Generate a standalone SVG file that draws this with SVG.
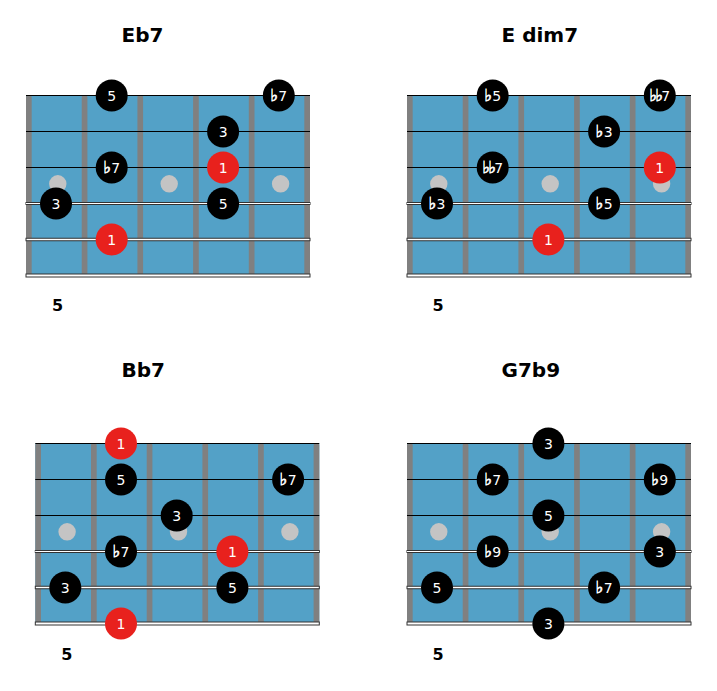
<svg xmlns="http://www.w3.org/2000/svg" xmlns:xlink="http://www.w3.org/1999/xlink" width="717" height="691" viewBox="0 0 717 691">
<style>
.title{font-family:"DejaVu Sans",sans-serif;font-weight:bold;font-size:20px;fill:#000}
.pos{font-family:"DejaVu Sans",sans-serif;font-weight:bold;font-size:16px;fill:#000;text-anchor:middle}
.nt{font-family:"DejaVu Sans",sans-serif;font-size:14px;fill:#fff;text-anchor:middle}
.fl{font-family:"DejaVu Sans",sans-serif;font-size:17px;fill:#fff;stroke:#fff;stroke-width:0.6}
.dfl{font-family:"DejaVu Sans",sans-serif;font-size:17px;letter-spacing:-2px;fill:#fff;stroke:#fff;stroke-width:0.6}
.blk{fill:#000}
.red{fill:#e8211d}
.fret{fill:#808080}
.inlay{fill:#c4c4c4}
.thin{stroke:#000;stroke-width:1.2}
.wound{fill:#fff;stroke:#333;stroke-width:1}
</style>
<defs>
<g id="board">
<rect x="0" y="0" width="284" height="180" fill="#53a1c7"/>
<rect class="fret" x="0" y="0" width="5.7" height="180" rx="1.5"/>
<rect class="fret" x="55.7" y="0" width="5.7" height="180" rx="1.5"/>
<rect class="fret" x="111.4" y="0" width="5.7" height="180" rx="1.5"/>
<rect class="fret" x="167.1" y="0" width="5.7" height="180" rx="1.5"/>
<rect class="fret" x="222.8" y="0" width="5.7" height="180" rx="1.5"/>
<rect class="fret" x="278.3" y="0" width="5.7" height="180" rx="1.5"/>
<circle class="inlay" cx="31.8" cy="88.3" r="8.7"/>
<circle class="inlay" cx="143.2" cy="88.3" r="8.7"/>
<circle class="inlay" cx="254.6" cy="88.3" r="8.7"/>
<line class="thin" x1="0" y1="0" x2="284" y2="0"/>
<line class="thin" x1="0" y1="36" x2="284" y2="36"/>
<line class="thin" x1="0" y1="72" x2="284" y2="72"/>
<rect class="wound" x="0" y="107" width="284" height="2"/>
<rect class="wound" x="0" y="142.75" width="284" height="2.5"/>
<rect class="wound" x="0" y="178.5" width="284" height="3"/>
</g>
</defs>

<g id="chord-eb7">
<text class="title" x="121.5" y="42.3">Eb7</text>
<g transform="translate(26,95.5)">
<use xlink:href="#board" href="#board"/>
<g id="eb7-notes">
<circle class="blk" cx="85.7" cy="0" r="16"/><text class="nt" x="85.7" y="5">5</text>
<circle class="blk" cx="252.8" cy="0" r="16"/><text class="nt" x="252.8" y="5"><tspan class="fl">♭</tspan>7</text>
<circle class="blk" cx="197.1" cy="36" r="16"/><text class="nt" x="197.1" y="41">3</text>
<circle class="blk" cx="85.7" cy="72" r="16"/><text class="nt" x="85.7" y="77"><tspan class="fl">♭</tspan>7</text>
<circle class="red" cx="197.1" cy="72" r="16"/><text class="nt" x="197.1" y="77">1</text>
<circle class="blk" cx="30" cy="108" r="16"/><text class="nt" x="30" y="113">3</text>
<circle class="blk" cx="197.1" cy="108" r="16"/><text class="nt" x="197.1" y="113">5</text>
<circle class="red" cx="85.7" cy="144" r="16"/><text class="nt" x="85.7" y="149">1</text>
</g>
</g>
<text class="pos" x="57.5" y="311">5</text>
</g>

<g id="chord-edim7">
<text class="title" x="501.5" y="42.3">E dim7</text>
<g transform="translate(407,95.5)">
<use xlink:href="#board" href="#board"/>
<g id="edim7-notes">
<circle class="blk" cx="85.7" cy="0" r="16"/><text class="nt" x="85.7" y="5"><tspan class="fl">♭</tspan>5</text>
<circle class="blk" cx="252.8" cy="0" r="16"/><text class="nt" x="252.8" y="5"><tspan class="dfl">♭♭</tspan>7</text>
<circle class="blk" cx="197.1" cy="36" r="16"/><text class="nt" x="197.1" y="41"><tspan class="fl">♭</tspan>3</text>
<circle class="blk" cx="85.7" cy="72" r="16"/><text class="nt" x="85.7" y="77"><tspan class="dfl">♭♭</tspan>7</text>
<circle class="red" cx="252.8" cy="72" r="16"/><text class="nt" x="252.8" y="77">1</text>
<circle class="blk" cx="30" cy="108" r="16"/><text class="nt" x="30" y="113"><tspan class="fl">♭</tspan>3</text>
<circle class="blk" cx="197.1" cy="108" r="16"/><text class="nt" x="197.1" y="113"><tspan class="fl">♭</tspan>5</text>
<circle class="red" cx="141.4" cy="144" r="16"/><text class="nt" x="141.4" y="149">1</text>
</g>
</g>
<text class="pos" x="438" y="311">5</text>
</g>

<g id="chord-bb7">
<text class="title" x="121.5" y="376.7">Bb7</text>
<g transform="translate(35.3,443.5)">
<use xlink:href="#board" href="#board"/>
<g id="bb7-notes">
<circle class="red" cx="85.7" cy="0" r="16"/><text class="nt" x="85.7" y="5">1</text>
<circle class="blk" cx="85.7" cy="36" r="16"/><text class="nt" x="85.7" y="41">5</text>
<circle class="blk" cx="252.8" cy="36" r="16"/><text class="nt" x="252.8" y="41"><tspan class="fl">♭</tspan>7</text>
<circle class="blk" cx="141.4" cy="72" r="16"/><text class="nt" x="141.4" y="77">3</text>
<circle class="blk" cx="85.7" cy="108" r="16"/><text class="nt" x="85.7" y="113"><tspan class="fl">♭</tspan>7</text>
<circle class="red" cx="197.1" cy="108" r="16"/><text class="nt" x="197.1" y="113">1</text>
<circle class="blk" cx="30" cy="144" r="16"/><text class="nt" x="30" y="149">3</text>
<circle class="blk" cx="197.1" cy="144" r="16"/><text class="nt" x="197.1" y="149">5</text>
<circle class="red" cx="85.7" cy="180" r="16"/><text class="nt" x="85.7" y="185">1</text>
</g>
</g>
<text class="pos" x="66.8" y="660">5</text>
</g>

<g id="chord-g7b9">
<text class="title" x="501.5" y="376.7">G7b9</text>
<g transform="translate(407,443.5)">
<use xlink:href="#board" href="#board"/>
<g id="g7b9-notes">
<circle class="blk" cx="141.4" cy="0" r="16"/><text class="nt" x="141.4" y="5">3</text>
<circle class="blk" cx="85.7" cy="36" r="16"/><text class="nt" x="85.7" y="41"><tspan class="fl">♭</tspan>7</text>
<circle class="blk" cx="252.8" cy="36" r="16"/><text class="nt" x="252.8" y="41"><tspan class="fl">♭</tspan>9</text>
<circle class="blk" cx="141.4" cy="72" r="16"/><text class="nt" x="141.4" y="77">5</text>
<circle class="blk" cx="85.7" cy="108" r="16"/><text class="nt" x="85.7" y="113"><tspan class="fl">♭</tspan>9</text>
<circle class="blk" cx="252.8" cy="108" r="16"/><text class="nt" x="252.8" y="113">3</text>
<circle class="blk" cx="30" cy="144" r="16"/><text class="nt" x="30" y="149">5</text>
<circle class="blk" cx="197.1" cy="144" r="16"/><text class="nt" x="197.1" y="149"><tspan class="fl">♭</tspan>7</text>
<circle class="blk" cx="141.4" cy="180" r="16"/><text class="nt" x="141.4" y="185">3</text>
</g>
</g>
<text class="pos" x="438" y="660">5</text>
</g>

<g id="connectors"/>
</svg>
